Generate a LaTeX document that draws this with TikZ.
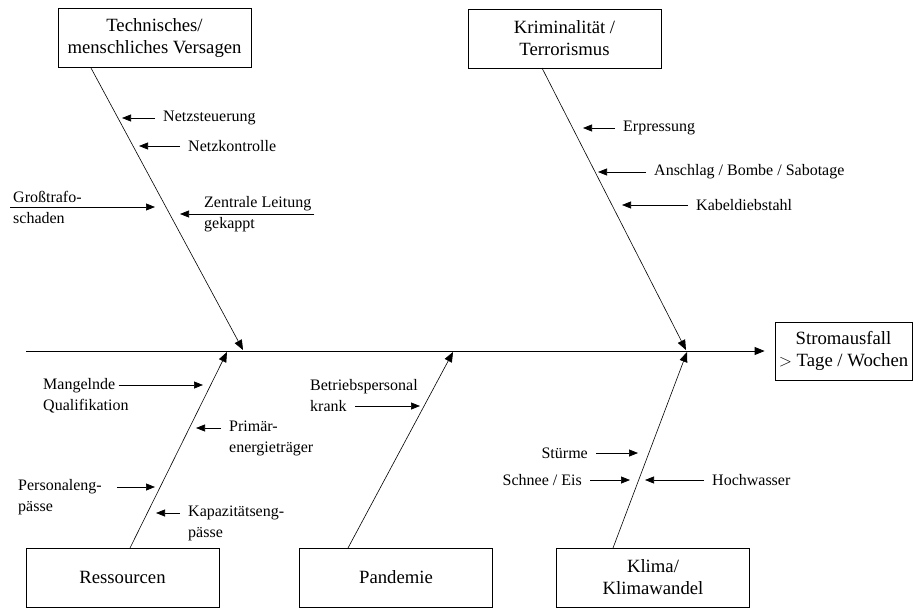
\documentclass[tikz,border=0pt]{standalone}
\usepackage{fontspec}
\setmainfont{Liberation Serif}
\usetikzlibrary{arrows.meta}

\tikzset{
    cat/.style = {draw, line width = 0.8pt, align = center, inner sep = 2pt,
        minimum width = 193pt, minimum height = 59pt,
        font = \fontsize{18.7}{22}\selectfont},
    lbl/.style = {inner sep = 3pt, align = left,
        font = \fontsize{16}{21}\selectfont},
    bone/.style = {line width = 0.6pt, -{Triangle[length = 10pt, width = 8pt]}},
    cause/.style = {line width = 0.7pt, shorten <= 5pt,
        -{Triangle[length = 9pt, width = 7pt]}}
}

\begin{document}
\begin{tikzpicture}[x = 1pt, y = -1pt]
                \useasboundingbox (0, 0) rectangle (913, 608);

                % boxes
                \node [cat] (tech) at (154.5, 38) {Technisches/\\menschliches Versagen};
                \node [cat] (krim) at (564.5, 38.5) {Kriminalit\"at /\\Terrorismus};
                \node [cat] (res) at (122.5, 577.5) {Ressourcen};
                \node [cat] (pand) at (396, 577.5) {Pandemie};
                \node [cat] (klima) at (653, 577.5) {Klima/\\Klimawandel};
                \node [cat, minimum width = 137pt, minimum height = 58pt] (strom)
                    at (843.5, 351) {Stromausfall\\$>$ Tage / Wochen};

                % spine
                \coordinate (spine) at (26, 351);
                \draw [bone, line width = 0.8pt, shorten >= 10pt] (spine) -- (strom.west);

                % bones
                \coordinate (tech foot) at (91, 68);
                \coordinate (krim foot) at (542, 68);
                \coordinate (res foot) at (130, 548);
                \coordinate (pand foot) at (348, 548);
                \coordinate (klima foot) at (613, 548);
                \coordinate (tech tip) at (243, 350);
                \coordinate (krim tip) at (686, 350);
                \coordinate (res tip) at (227, 352);
                \coordinate (pand tip) at (453, 352);
                \coordinate (klima tip) at (687, 352);
                \draw [bone] (tech foot) -- (tech tip);
                \draw [bone] (krim foot) -- (krim tip);
                \draw [bone] (res foot) -- (res tip);
                \draw [bone] (pand foot) -- (pand tip);
                \draw [bone] (klima foot) -- (klima tip);

                % Technisches / menschliches Versagen
                \node [lbl, anchor = west] (nst) at (160, 118) {Netzsteuerung};
                \node [lbl, anchor = west] (nko) at (185, 146) {Netzkontrolle};
                \node [lbl, anchor = west] (gts) at (10, 207) {Gro\ss trafo-\\schaden};
                \node [lbl, anchor = west] (zlg) at (201, 214) {Zentrale Leitung\\gekappt};
                \coordinate (nst tip) at (122, 118);
                \coordinate (nko tip) at (139, 146);
                \coordinate (gts tip) at (155, 207);
                \coordinate (zlg tip) at (180, 214);
                \draw [cause] (nst) -- (nst tip);
                \draw [cause] (nko) -- (nko tip);
                \draw [cause, shorten <= 0pt] (gts.west) -- (gts tip);
                \draw [cause, shorten <= 0pt] (zlg.east) -- (zlg tip);

                % Kriminalitaet / Terrorismus
                \node [lbl, anchor = west] (erp) at (620, 128) {Erpressung};
                \node [lbl, anchor = west] (ans) at (651, 172) {Anschlag / Bombe / Sabotage};
                \node [lbl, anchor = west] (kab) at (693, 205) {Kabeldiebstahl};
                \coordinate (erp tip) at (583, 128);
                \coordinate (ans tip) at (598, 172);
                \coordinate (kab tip) at (622, 205);
                \draw [cause] (erp) -- (erp tip);
                \draw [cause] (ans) -- (ans tip);
                \draw [cause] (kab) -- (kab tip);

                % Ressourcen
                \node [lbl, anchor = west] (mq) at (40, 395.5) {Mangelnde\\Qualifikation};
                \node [lbl, anchor = west] (pet) at (226, 438) {Prim\"ar-\\energietr\"ager};
                \node [lbl, anchor = west] (peg) at (15, 497.5) {Personaleng-\\p\"asse};
                \node [lbl, anchor = west] (keg) at (185, 523) {Kapazit\"atseng-\\p\"asse};
                \coordinate (mq tip) at (203, 385);
                \coordinate (pet tip) at (196, 428);
                \coordinate (peg tip) at (155, 487);
                \coordinate (keg tip) at (156, 513);
                \draw [cause, shorten <= 0pt] ([shift = {(-13pt, 10.5pt)}]mq.east) -- (mq tip);
                \draw [cause] ([yshift = 10pt]pet.west) -- (pet tip);
                \draw [cause] ([shift = {(7pt, 10.5pt)}]peg.east) -- (peg tip);
                \draw [cause] ([yshift = 10pt]keg.west) -- (keg tip);

                % Pandemie
                \node [lbl, anchor = west] (bpk) at (307, 395.5) {Betriebspersonal\\krank};
                \coordinate (bpk tip) at (420, 406);
                \draw [cause, shorten <= 0pt] ([shift = {(48pt, -10.5pt)}]bpk.west) -- (bpk tip);

                % Klima / Klimawandel
                \node [lbl, anchor = east] (stu) at (591, 453) {St\"urme};
                \node [lbl, anchor = east] (sei) at (585, 480) {Schnee / Eis};
                \node [lbl, anchor = west] (hwa) at (709, 480) {Hochwasser};
                \coordinate (stu tip) at (638, 453);
                \coordinate (sei tip) at (630, 480);
                \coordinate (hwa tip) at (645, 480);
                \draw [cause] (stu) -- (stu tip);
                \draw [cause] (sei) -- (sei tip);
                \draw [cause] (hwa) -- (hwa tip);
            \end{tikzpicture}
\end{document}
